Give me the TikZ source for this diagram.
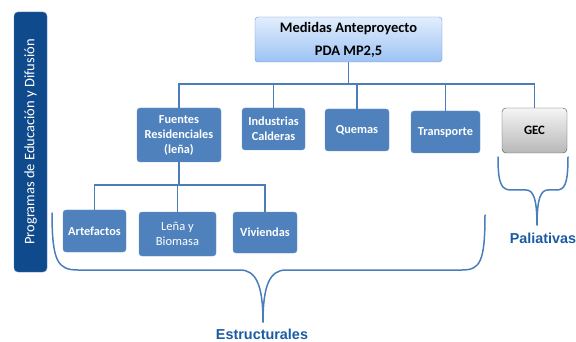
\documentclass[tikz,border=0pt]{standalone}
\usepackage{fontspec}
\setmainfont{Carlito}
\newfontfamily\arialfont{Liberation Sans}
\usetikzlibrary{positioning}

\definecolor{boxblue}{HTML}{4F81BD}
\definecolor{boxline}{HTML}{6B95CB}
\definecolor{linkblue}{HTML}{4A7EBB}
\definecolor{barblue}{HTML}{0F4A8C}
\definecolor{labelblue}{HTML}{1B5BA3}
\definecolor{toplight}{HTML}{E2EEFD}
\definecolor{topdark}{HTML}{9CC2F4}

\begin{document}
\begin{tikzpicture}[x=1pt, y=-1pt,
    b/.style={rectangle, rounded corners=3pt, draw=boxline, fill=boxblue, text=white, font=\bfseries\fontsize{12.3}{15}\selectfont, align=center, inner sep=1pt},
    link/.style={draw=linkblue, line width=1.3pt},
    brace/.style={draw=linkblue, line width=1.5pt, line cap=round},
    lbl/.style={text=labelblue, inner sep=0pt, font=\arialfont\bfseries\fontsize{14.4}{16}\selectfont}]
    \useasboundingbox (0,0) rectangle (576,342);

    % left bar
    \node[rectangle, rounded corners=4pt, draw=boxblue, fill=barblue, minimum width=33pt, minimum height=260pt, inner sep=0pt] (bar) at (30.5,142) {};
    \node[rotate=90, text=white, font=\fontsize{14.5}{16}\selectfont] (bar_label) at (bar.center) {Programas de Educación y Difusión};

    % top
    \node[rectangle, rounded corners=3pt, draw=boxline, top color=toplight, bottom color=topdark, minimum width=187pt, minimum height=45pt, align=center, font=\bfseries\fontsize{14.5}{16}\selectfont] (top) at (348.5,39.5) {Medidas Anteproyecto\\[7pt]PDA MP2,5};

    % level 2
    \node[b, minimum width=84pt, minimum height=54pt] (fuentes) at (179,135) {Fuentes\\Residenciales\\(leña)};
    \node[b, minimum width=63pt, minimum height=42pt] (industrias) at (273.5,129) {Industrias\\Calderas};
    \node[b, minimum width=64pt, minimum height=42pt] (quemas) at (357,130) {Quemas};
    \node[b, minimum width=69pt, minimum height=42pt] (transporte) at (445.5,132) {Transporte};
    \node[rectangle, rounded corners=4pt, draw=black!70, top color=black!4, bottom color=black!28, minimum width=65pt, minimum height=45pt, font=\bfseries\fontsize{12.8}{15}\selectfont] (gec) at (534.5,130.5) {GEC};

    % level 3
    \node[b, minimum width=63pt, minimum height=42pt] (artefactos) at (94.5,231) {Artefactos};
    \node[b, minimum width=77pt, minimum height=44pt, font=\fontsize{12.5}{15}\selectfont] (lena) at (177.5,234) {Leña y\\Biomasa};
    \node[b, minimum width=64pt, minimum height=41pt] (viviendas) at (265,232.5) {Viviendas};

    \coordinate (bus) at (0,84);
    \coordinate (bus2) at (0,185);

    \foreach \c in {fuentes, industrias, quemas, transporte, gec}
        \draw[link] (top.south) -- (top.south |- bus) -| (\c.north);
    \foreach \c in {artefactos, lena, viviendas}
        \draw[link] (fuentes.south) -- (fuentes.south |- bus2) -| (\c.north);

    % braces
    \coordinate (tip1) at (263,322);
    \draw[brace] (52,213) .. controls (52,262) and (58,270) .. (78,270) -- (240,270) .. controls (256,270) and (263,285) .. (tip1);
    \draw[brace] (485,215) .. controls (485,262) and (480,270) .. (462,270) -- (286,270) .. controls (270,270) and (263,285) .. (tip1);
    \coordinate (tip2) at (537,225);
    \draw[brace] (498,157) .. controls (498,186) and (502,190) .. (512,190) -- (526,190) .. controls (533,190) and (537,198) .. (tip2);
    \draw[brace] (568,157) .. controls (568,186) and (564,190) .. (556,190) -- (548,190) .. controls (541,190) and (537,198) .. (tip2);

    \node[lbl] (estructurales) at (262,334) {Estructurales};
    \node[lbl] (paliativas) at (543,238) {Paliativas};
\end{tikzpicture}
\end{document}
